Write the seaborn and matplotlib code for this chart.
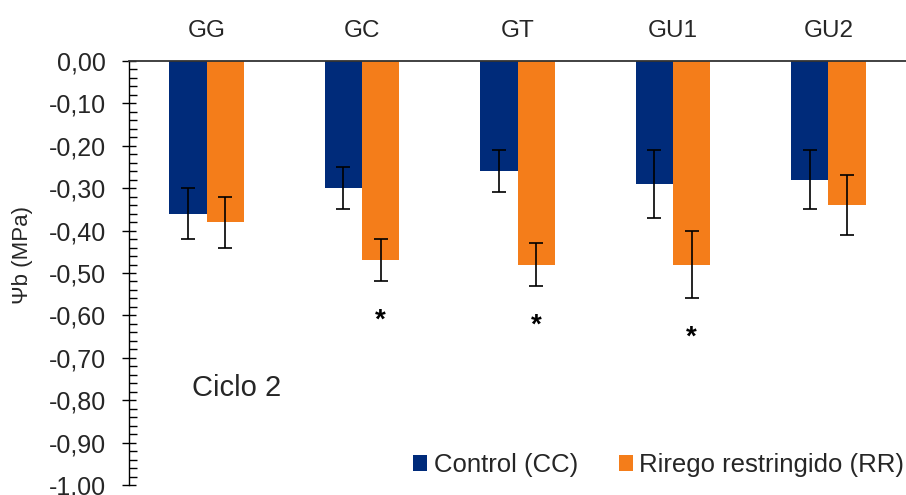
import numpy as np
import pandas as pd
import matplotlib
matplotlib.use("Agg")
import matplotlib.pyplot as plt
import seaborn as sns
from matplotlib.ticker import MultipleLocator, FuncFormatter
from matplotlib.patches import Patch

# ---- data ----
categories = ["GG", "GC", "GT", "GU1", "GU2"]
control_mean = [-0.36, -0.30, -0.26, -0.29, -0.28]
control_err = [0.06, 0.05, 0.05, 0.08, 0.07]
rr_mean = [-0.38, -0.47, -0.48, -0.48, -0.34]
rr_err = [0.06, 0.05, 0.05, 0.08, 0.07]
rr_significant = [False, True, True, True, False]
series_labels = ["Control (CC)", "Rirego restringido (RR)"]
colors = ["#002B7A", "#F47D1A"]

sns.set_theme(style="white")
plt.rcParams["font.family"] = ["Liberation Sans", "DejaVu Sans"]

df = pd.DataFrame({
    "cat": categories * 2,
    "trat": [series_labels[0]] * len(categories) + [series_labels[1]] * len(categories),
    "val": control_mean + rr_mean,
})

W, H = 906, 495
fig = plt.figure(figsize=(W / 100, H / 100), dpi=100)
ax = fig.add_axes([129 / W, 1 - 485 / H, 1 - 129 / W, (485 - 61) / H])

sns.barplot(data=df, x="cat", y="val", hue="trat", order=categories,
            hue_order=series_labels, palette=colors, saturation=1,
            width=0.48, errorbar=None, linewidth=0, ax=ax, legend=False)

# error bars and significance marks at the bar centres
for k, (means, errs) in enumerate([(control_mean, control_err), (rr_mean, rr_err)]):
    bars = ax.containers[k]
    xs = [b.get_x() + b.get_width() / 2 for b in bars]
    ax.errorbar(xs, means, yerr=errs, fmt="none", ecolor="black",
                elinewidth=1.2, capsize=4.7, capthick=1.2, zorder=5)
    if k == 1:
        for x, m, e, s in zip(xs, means, errs, rr_significant):
            if s:
                ax.text(x, m - e - 0.11, "*", ha="center", va="baseline",
                        fontsize=20, fontweight="bold", color="black")

ax.set_ylim(-1.0, 0.0)
ax.set_xlim(-0.5, len(categories) - 0.5)
ax.yaxis.set_major_locator(MultipleLocator(0.1))
ax.yaxis.set_minor_locator(MultipleLocator(0.02))

def fmt(v, pos):
    if abs(v) < 1e-9:
        v = 0.0
    return f"{v:.2f}".replace(".", ",")

ax.yaxis.set_major_formatter(FuncFormatter(fmt))
ax.tick_params(axis="y", which="major", direction="inout", length=10.6,
               width=1, color="black", labelsize=18, pad=11.3, left=True)
ax.tick_params(axis="y", which="minor", direction="in", length=5.5,
               width=1, color="black", left=True)

ax.xaxis.tick_top()
ax.tick_params(axis="x", length=0, labelsize=17.5, pad=14)
ax.set_xlabel("")

for side in ["right", "bottom"]:
    ax.spines[side].set_visible(False)
ax.spines["left"].set_color("black")
ax.spines["left"].set_linewidth(1)
ax.spines["top"].set_color("#333333")
ax.spines["top"].set_linewidth(1.3)

ax.set_ylabel("Ψb (MPa)", fontsize=16)
ax.yaxis.set_label_coords((33 - 129) / (W - 129), (485 - 255) / (485 - 61))

fig.text(192 / W, 1 - 388 / H, "Ciclo 2", ha="left", va="center", fontsize=21)

handles = [Patch(facecolor=c, edgecolor="none") for c in colors]
fig.legend(handles, series_labels, loc="center right",
           bbox_to_anchor=(0.998, 1 - 465 / H), ncol=2, frameon=False,
           fontsize=18.5, handlelength=0.54, handleheight=0.54,
           handletextpad=0.25, columnspacing=1.6, borderpad=0, borderaxespad=0)

fig.savefig("out.png", dpi=100)
